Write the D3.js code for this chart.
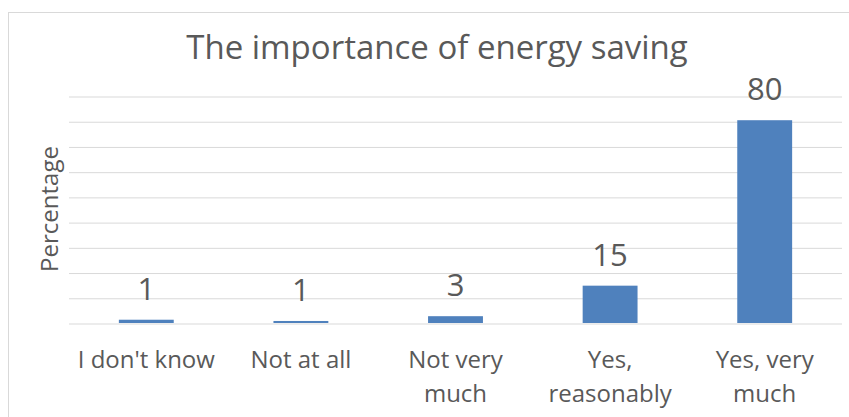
<!DOCTYPE html>
<html lang="en">
<head>
<meta charset="UTF-8">
<title>The importance of energy saving</title>
<script src="https://d3js.org/d3.v7.min.js"></script>
<style>
    body {
        margin: 0;
        background: #ffffff;
        font-family: "Open Sans", Arial, sans-serif;
    }
    .grid line {
        stroke: #d9d9d9;
        stroke-width: 1px;
    }
    .label {
        fill: #595959;
    }
</style>
</head>
<body>
<div id="chart"></div>
<script>
    // Data (labels show rounded values)
    const categories = ["I don't know", "Not at all", "Not very much", "Yes, reasonably", "Yes, very much"];
    const categoryLines = [["I don't know"], ["Not at all"], ["Not very", "much"], ["Yes,", "reasonably"], ["Yes, very", "much"]];
    const values = [1.3, 0.8, 2.7, 14.8, 80.4];
    const yTicks = [0, 10, 20, 30, 40, 50, 60, 70, 80, 90];

    const width = 849;
    const height = 417;
    const margin = { top: 96, right: 7, bottom: 94, left: 69 };

    const svg = d3.select("#chart")
        .append("svg")
        .attr("width", width)
        .attr("height", height);

    // chart area border
    svg.append("rect")
        .attr("x", 8.5)
        .attr("y", 12.5)
        .attr("width", 900)
        .attr("height", 500)
        .attr("fill", "none")
        .attr("stroke", "#d9d9d9");

    const x = d3.scaleBand()
        .domain(categories)
        .range([margin.left, width - margin.right])
        .paddingInner(0.645)
        .paddingOuter(0.3225);

    const y = d3.scaleLinear()
        .domain([0, 90])
        .range([height - margin.bottom, margin.top]);

    // gridlines (no tick labels in the original)
    const grid = svg.append("g")
        .attr("class", "grid")
        .attr("transform", `translate(${margin.left},0)`)
        .call(d3.axisLeft(y)
            .tickValues(yTicks)
            .tickSize(-(width - margin.left - margin.right))
            .tickFormat(""));
    grid.select(".domain").remove();
    grid.selectAll("line").attr("transform", "translate(0,0.5)");

    // bars
    svg.selectAll(".bar")
        .data(values)
        .enter()
        .append("rect")
        .attr("class", "bar")
        .attr("x", (d, i) => x(categories[i]))
        .attr("y", d => y(d))
        .attr("width", x.bandwidth())
        .attr("height", d => y(0) - y(d))
        .attr("fill", "#4f81bd");

    // value labels
    svg.selectAll(".value")
        .data(values)
        .enter()
        .append("text")
        .attr("class", "label value")
        .attr("x", (d, i) => x(categories[i]) + x.bandwidth() / 2)
        .attr("y", d => y(d) - 20)
        .attr("text-anchor", "middle")
        .style("font-size", "31px")
        .text(d => d3.format(".0f")(d));

    // category labels
    const cat = svg.selectAll(".cat")
        .data(categoryLines)
        .enter()
        .append("text")
        .attr("class", "label cat")
        .attr("text-anchor", "middle")
        .style("font-size", "24px")
        .attr("x", (d, i) => x(categories[i]) + x.bandwidth() / 2)
        .attr("y", 368);
    cat.selectAll("tspan")
        .data(d => d)
        .enter()
        .append("tspan")
        .attr("x", function() { return d3.select(this.parentNode).attr("x"); })
        .attr("dy", (d, i) => i === 0 ? 0 : 34)
        .text(d => d);

    // title
    svg.append("text")
        .attr("class", "label")
        .attr("x", 437)
        .attr("y", 59)
        .attr("text-anchor", "middle")
        .style("font-size", "33px")
        .text("The importance of energy saving");

    // y axis title
    svg.append("text")
        .attr("class", "label")
        .attr("transform", "translate(58,209) rotate(-90)")
        .attr("text-anchor", "middle")
        .style("font-size", "24px")
        .text("Percentage");
</script>
</body>
</html>
